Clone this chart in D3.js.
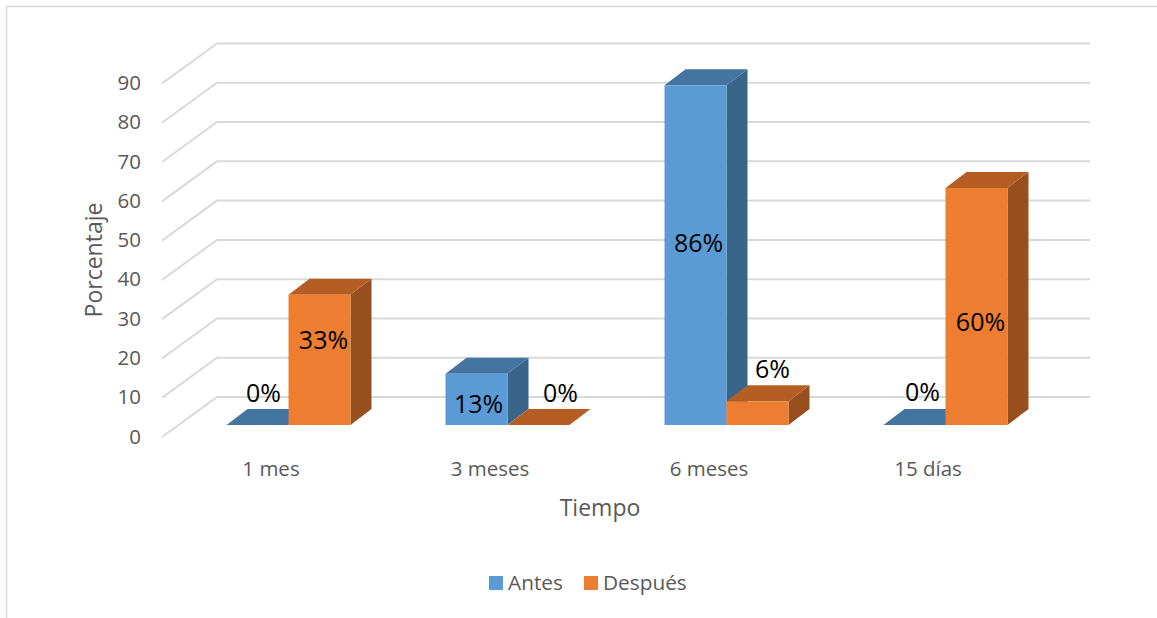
<!DOCTYPE html>
<html lang="es">
<head>
<meta charset="utf-8">
<title>Porcentaje por tiempo</title>
<script src="https://cdn.jsdelivr.net/npm/d3@7/dist/d3.min.js"></script>
<style>
  html, body { margin: 0; padding: 0; background: #fff; }
  svg { display: block; }
  text { font-family: "Open Sans", sans-serif; }
  .axis text { fill: #595959; font-size: 20.5px; }
  .axis path, .axis line { display: none; }
</style>
</head>
<body>
<svg id="chart" width="1157" height="618"></svg>
<script>
// Chart data
const categories = ["1 mes", "3 meses", "6 meses", "15 días"];
const seriesNames = ["Antes", "Después"];
const antes = [0, 13, 86, 0];
const despues = [33, 0, 6, 60];
const yTicks = [0, 10, 20, 30, 40, 50, 60, 70, 80, 90];
const xTitle = "Tiempo";
const yTitle = "Porcentaje";

const svg = d3.select("#chart");
const W = 1157, H = 618;

// Fake 3D projection of the plot box
const wallDx = 55, wallDy = -40;   // floor depth: front edge to back wall
const barDx = 21, barDy = -16;     // depth of each column
const plotLeft = 162, plotRight = 1035;

const palette = {
  Antes:   { front: "#5B9BD5", top: "#4475A1", side: "#3A658A" },
  "Después": { front: "#ED7D31", top: "#B55E23", side: "#964F1D" }
};

// Scales: gridlines sit on the wall, columns stand further forward on the floor
const yGrid = d3.scaleLinear().domain([0, 90]).range([437, 83.5]);
const yBar = d3.scaleLinear().domain([0, 90]).range([425, 69.5]);
const xGroup = d3.scaleBand().domain(categories).range([179, 1055])
  .paddingInner(0.434).paddingOuter(0.217);
const xSeries = d3.scaleBand().domain(seriesNames).range([0, xGroup.bandwidth()]);

// Chart frame: only the top and left edges show
svg.append("path")
  .attr("d", d3.line()([[6.5, H], [6.5, 6.5], [W, 6.5]]))
  .attr("fill", "none").attr("stroke", "#D9D9D9").attr("stroke-width", 1.5);

// Gridlines: diagonal on the side wall, horizontal on the back wall
const grid = svg.append("g")
  .attr("fill", "none").attr("stroke", "#D9D9D9").attr("stroke-width", 2);
grid.selectAll("path").data(yTicks).join("path")
  .attr("d", t => d3.line()([
    [plotLeft, yGrid(t)],
    [plotLeft + wallDx, yGrid(t) + wallDy],
    [plotRight + wallDx, yGrid(t) + wallDy]
  ]));

// Value axis
svg.append("g").attr("class", "axis")
  .attr("transform", "translate(146,-0.5)")
  .call(d3.axisLeft(yGrid).tickValues(yTicks).tickSize(0).tickPadding(5));

// Flatten the two series into draw order
const rows = categories.flatMap((c, i) => [
  { category: c, series: "Antes", value: antes[i] },
  { category: c, series: "Después", value: despues[i] }
]);

// One column: side face, top face, front face
const columns = svg.selectAll("g.column").data(rows).join("g").attr("class", "column");
const corners = d => {
  const x0 = xGroup(d.category) + xSeries(d.series);
  return { x0, x1: x0 + xSeries.bandwidth(), y0: yBar(0), y1: yBar(d.value) };
};
const polygon = d3.line().curve(d3.curveLinearClosed);

columns.append("path")
  .attr("fill", d => palette[d.series].side)
  .attr("d", d => {
    const { x1, y0, y1 } = corners(d);
    return polygon([[x1, y0], [x1 + barDx, y0 + barDy], [x1 + barDx, y1 + barDy], [x1, y1]]);
  });
columns.append("path")
  .attr("fill", d => palette[d.series].top)
  .attr("d", d => {
    const { x0, x1, y1 } = corners(d);
    return polygon([[x0, y1], [x0 + barDx, y1 + barDy], [x1 + barDx, y1 + barDy], [x1, y1]]);
  });
columns.append("rect")
  .attr("fill", d => palette[d.series].front)
  .attr("x", d => corners(d).x0)
  .attr("y", d => corners(d).y1)
  .attr("width", xSeries.bandwidth())
  .attr("height", d => corners(d).y0 - corners(d).y1);

// Data labels were nudged by hand; offsets are from each column's top centre
const labelNudge = [
  [6, -33], [4, 44],
  [2, 29], [22, -33],
  [3, 157], [15, -33],
  [8, -34], [4, 133]
];
svg.selectAll("text.value").data(rows).join("text")
  .attr("class", "value")
  .attr("x", (d, i) => (corners(d).x0 + corners(d).x1) / 2 + labelNudge[i][0])
  .attr("y", (d, i) => corners(d).y1 + labelNudge[i][1])
  .attr("text-anchor", "middle").attr("dominant-baseline", "central")
  .attr("fill", "#000").attr("font-size", 25)
  .text(d => d.value + "%");

// Category labels
svg.selectAll("text.category").data(categories).join("text")
  .attr("class", "category")
  .attr("x", c => xGroup(c) + xGroup.bandwidth() / 2 - 17.5)
  .attr("y", 468)
  .attr("text-anchor", "middle").attr("dominant-baseline", "central")
  .attr("fill", "#595959").attr("font-size", 20.5)
  .text(c => c);

// Axis titles
svg.append("text")
  .attr("x", 600).attr("y", 507)
  .attr("text-anchor", "middle").attr("dominant-baseline", "central")
  .attr("fill", "#595959").attr("font-size", 23)
  .text(xTitle);
svg.append("text")
  .attr("transform", "translate(93,260) rotate(-90)")
  .attr("text-anchor", "middle").attr("dominant-baseline", "central")
  .attr("fill", "#595959").attr("font-size", 23)
  .text(yTitle);

// Legend
const legendX = d3.scaleOrdinal().domain(seriesNames).range([489, 584]);
const legend = svg.selectAll("g.legend").data(seriesNames).join("g")
  .attr("class", "legend")
  .attr("transform", s => `translate(${legendX(s)},576)`);
legend.append("rect")
  .attr("width", 14).attr("height", 14)
  .attr("fill", s => palette[s].front);
legend.append("text")
  .attr("x", 19).attr("y", 6)
  .attr("dominant-baseline", "central")
  .attr("fill", "#595959").attr("font-size", 20.8)
  .text(s => s);
</script>
</body>
</html>
